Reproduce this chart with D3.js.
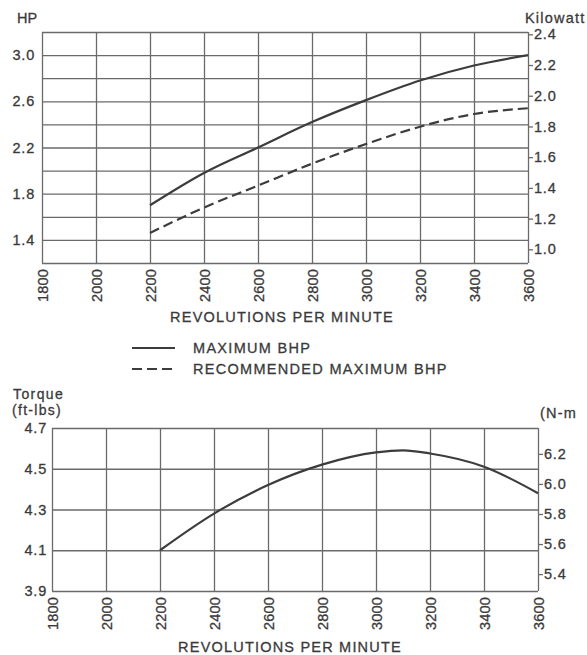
<!DOCTYPE html>
<html><head><meta charset="utf-8">
<script src="https://cdn.jsdelivr.net/npm/d3@7"></script>
<style>
body{margin:0;background:#fff;}
text{font-family:"Liberation Sans",Arial,sans-serif;fill:#3a3a3a;stroke:#3a3a3a;stroke-width:0.3px;}
.domain{display:none;}
</style></head><body>
<svg id="c" width="587" height="655"></svg>
<script>
// ---- data ----
const rpmTicks = [1800,2000,2200,2400,2600,2800,3000,3200,3400,3600];
const rpm = [2200,2400,2600,2800,3000,3200,3400,3600];
const maxBhp = [1.70,1.98,2.20,2.42,2.61,2.78,2.91,3.00];
const recBhp = [1.46,1.68,1.87,2.06,2.23,2.38,2.49,2.54];
const hpGrid = [1.2,1.4,1.6,1.8,2.0,2.2,2.4,2.6,2.8,3.0,3.2];
const hpLabels = [1.4,1.8,2.2,2.6,3.0];
const kwTicks = [1.0,1.2,1.4,1.6,1.8,2.0,2.2,2.4];
const torqueRpm = [2200,2400,2600,2800,3000,3100,3200,3400,3600];
const torque = [4.10,4.28,4.42,4.52,4.58,4.59,4.575,4.51,4.38];
const torqueTicks = [3.9,4.1,4.3,4.5,4.7];
const nmTicks = [5.4,5.6,5.8,6.0,6.2];
const legendItems = ["MAXIMUM BHP","RECOMMENDED MAXIMUM BHP"];

const svg = d3.select("#c");
const gridColor = "#6a6a6a", curveColor = "#3c3c3c";
const FS = "14.5px", NUM_LS = "0.8px", TXT_LS = "1.2px";

function xLabels(g, x, y0){
  g.append("g").attr("transform",`translate(0,${y0})`)
   .call(d3.axisBottom(x).tickValues(rpmTicks).tickSize(0).tickFormat(d3.format("d")))
   .call(s=>s.selectAll("text").attr("transform","rotate(-90)")
      .attr("text-anchor","end").attr("x",-6).attr("y",0).attr("dy","0.36em")
      .style("font-size",FS).style("letter-spacing","0.2px"));
}

// ---- top chart ----
{
  const L=42,R=528,T=32,B=263;
  const x = d3.scaleLinear().domain([1800,3600]).range([L,R]);
  const y = d3.scaleLinear().domain([1.2,3.2]).range([B,T]);
  const k = d3.scaleLinear().domain([0.911,2.415]).range([B,T]);
  const g = svg.append("g");
  g.append("g").attr("transform",`translate(0,${B})`)
   .call(d3.axisBottom(x).tickValues(rpmTicks).tickSize(-(B-T)).tickFormat(""))
   .call(s=>s.selectAll("line").attr("stroke",gridColor).attr("stroke-width",1.3));
  g.append("g").attr("transform",`translate(${L},0)`)
   .call(d3.axisRight(y).tickValues(hpGrid).tickSize(R-L).tickFormat(""))
   .call(s=>s.selectAll("line").attr("stroke",gridColor).attr("stroke-width",1.3));
  g.append("g").attr("transform",`translate(${L},0)`)
   .call(d3.axisLeft(y).tickValues(hpLabels).tickSize(0).tickPadding(7).tickFormat(d3.format(".1f")))
   .call(s=>s.selectAll("text").style("font-size",FS).style("letter-spacing",NUM_LS));
  g.append("g").attr("transform",`translate(${R},0)`)
   .call(d3.axisRight(k).tickValues(kwTicks).tickSize(5).tickPadding(1).tickFormat(d3.format(".1f")))
   .call(s=>{s.selectAll("line").attr("stroke",gridColor).attr("stroke-width",1.3);
             s.selectAll("text").style("font-size",FS).style("letter-spacing",NUM_LS);});
  xLabels(g,x,B);
  const line = d3.line().x((d,i)=>x(rpm[i])).y(d=>y(d)).curve(d3.curveMonotoneX);
  g.append("path").attr("d",line(maxBhp)).attr("fill","none").attr("stroke",curveColor).attr("stroke-width",2.2);
  g.append("path").attr("d",line(recBhp)).attr("fill","none").attr("stroke",curveColor).attr("stroke-width",2.2).attr("stroke-dasharray","10,5");
  g.append("text").attr("x",17).attr("y",23).text("HP").style("font-size",FS);
  g.append("text").attr("x",525).attr("y",23).text("Kilowatt").style("font-size",FS).style("letter-spacing",TXT_LS);
  g.append("text").attr("x",282).attr("y",322).attr("text-anchor","middle")
   .text("REVOLUTIONS PER MINUTE").style("font-size",FS).style("letter-spacing",TXT_LS);
}

// ---- legend ----
{
  const lg = svg.append("g");
  const ly = d3.scalePoint().domain(legendItems).range([348,369]);
  legendItems.forEach((t,i)=>{
    lg.append("line").attr("x1",132).attr("x2",175).attr("y1",ly(t)).attr("y2",ly(t))
      .attr("stroke",curveColor).attr("stroke-width",2.2).attr("stroke-dasharray",i?"10,5":null);
    lg.append("text").attr("x",193).attr("y",ly(t)).attr("dy","0.36em").text(t)
      .style("font-size",FS).style("letter-spacing","1.3px");
  });
}

// ---- bottom chart ----
{
  const L=52,R=538,T=428,B=591;
  const x = d3.scaleLinear().domain([1800,3600]).range([L,R]);
  const y = d3.scaleLinear().domain([3.9,4.7]).range([B,T]);
  const n = d3.scaleLinear().domain([3.9*1.3558,4.7*1.3558]).range([B,T]);
  const g = svg.append("g");
  g.append("g").attr("transform",`translate(0,${B})`)
   .call(d3.axisBottom(x).tickValues(rpmTicks).tickSize(-(B-T)).tickFormat(""))
   .call(s=>s.selectAll("line").attr("stroke",gridColor).attr("stroke-width",1.3));
  g.append("g").attr("transform",`translate(${L},0)`)
   .call(d3.axisRight(y).tickValues(torqueTicks).tickSize(R-L).tickFormat(""))
   .call(s=>s.selectAll("line").attr("stroke",gridColor).attr("stroke-width",1.3));
  g.append("g").attr("transform",`translate(${L},0)`)
   .call(d3.axisLeft(y).tickValues(torqueTicks).tickSize(0).tickPadding(5).tickFormat(d3.format(".1f")))
   .call(s=>s.selectAll("text").style("font-size",FS).style("letter-spacing",NUM_LS));
  g.append("g").attr("transform",`translate(${R},0)`)
   .call(d3.axisRight(n).tickValues(nmTicks).tickSize(5).tickPadding(1).tickFormat(d3.format(".1f")))
   .call(s=>{s.selectAll("line").attr("stroke",gridColor).attr("stroke-width",1.3);
             s.selectAll("text").style("font-size",FS).style("letter-spacing",NUM_LS);});
  xLabels(g,x,B);
  const line = d3.line().x((d,i)=>x(torqueRpm[i])).y(d=>y(d)).curve(d3.curveMonotoneX);
  g.append("path").attr("d",line(torque)).attr("fill","none").attr("stroke",curveColor).attr("stroke-width",2.2);
  g.append("text").attr("x",13).attr("y",399).text("Torque").style("font-size","14px").style("letter-spacing","1.4px");
  g.append("text").attr("x",12).attr("y",415).text("(ft-lbs)").style("font-size","14px").style("letter-spacing","1.3px");
  g.append("text").attr("x",540).attr("y",418).text("(N-m").style("font-size",FS).style("letter-spacing",TXT_LS);
  g.append("text").attr("x",290).attr("y",652).attr("text-anchor","middle")
   .text("REVOLUTIONS PER MINUTE").style("font-size",FS).style("letter-spacing",TXT_LS);
}
</script></body></html>
